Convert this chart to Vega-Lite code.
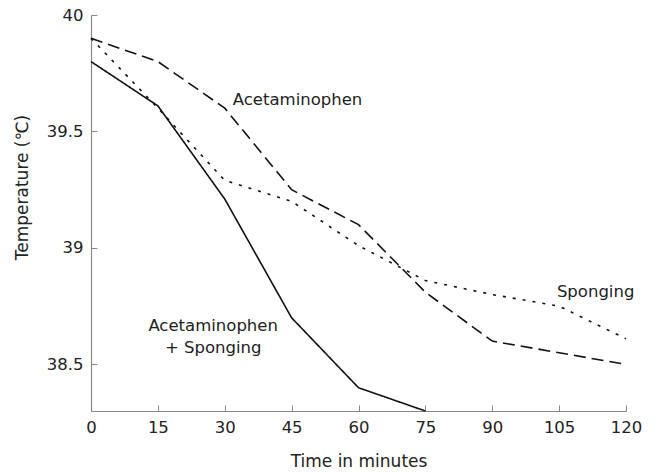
{
  "$schema": "https://vega.github.io/schema/vega-lite/v6.json",
  "autosize": "none",
  "width": 535,
  "height": 396,
  "padding": {"left": 91, "top": 15, "right": 33, "bottom": 64},
  "background": "white",
  "config": {
    "view": {"stroke": null},
    "font": "DejaVu Sans",
    "axis": {"grid": false, "domainColor": "#888", "tickColor": "#888", "labelColor": "#222", "titleColor": "#222", "labelFontSize": 16.5, "titleFontSize": 17, "titleFontWeight": "normal", "labelFont": "DejaVu Sans", "titleFont": "DejaVu Sans"}
  },
  "datasets": {
    "series": [
      {"group": "Acetaminophen + Sponging", "t": 0, "temp": 39.8},
      {"group": "Acetaminophen + Sponging", "t": 15, "temp": 39.61},
      {"group": "Acetaminophen + Sponging", "t": 30, "temp": 39.21},
      {"group": "Acetaminophen + Sponging", "t": 45, "temp": 38.7},
      {"group": "Acetaminophen + Sponging", "t": 60, "temp": 38.4},
      {"group": "Acetaminophen + Sponging", "t": 75, "temp": 38.3},
      {"group": "Acetaminophen", "t": 0, "temp": 39.9},
      {"group": "Acetaminophen", "t": 15, "temp": 39.8},
      {"group": "Acetaminophen", "t": 30, "temp": 39.6},
      {"group": "Acetaminophen", "t": 45, "temp": 39.25},
      {"group": "Acetaminophen", "t": 60, "temp": 39.1},
      {"group": "Acetaminophen", "t": 75, "temp": 38.81},
      {"group": "Acetaminophen", "t": 90, "temp": 38.6},
      {"group": "Acetaminophen", "t": 105, "temp": 38.55},
      {"group": "Acetaminophen", "t": 120, "temp": 38.5},
      {"group": "Sponging", "t": 0, "temp": 39.9},
      {"group": "Sponging", "t": 15, "temp": 39.6},
      {"group": "Sponging", "t": 30, "temp": 39.29},
      {"group": "Sponging", "t": 45, "temp": 39.2},
      {"group": "Sponging", "t": 60, "temp": 39.01},
      {"group": "Sponging", "t": 75, "temp": 38.86},
      {"group": "Sponging", "t": 90, "temp": 38.8},
      {"group": "Sponging", "t": 105, "temp": 38.75},
      {"group": "Sponging", "t": 120, "temp": 38.61}
    ],
    "labels": [
      {"label": "Acetaminophen", "t": 31.8, "temp": 39.636, "anchor": "left"},
      {"label": "Sponging", "t": 104.5, "temp": 38.813, "anchor": "left"},
      {"label": "Acetaminophen", "t": 27.4, "temp": 38.667, "anchor": "center"},
      {"label": "+ Sponging", "t": 27.4, "temp": 38.57, "anchor": "center"}
    ]
  },
  "layer": [
    {
      "data": {"name": "series"},
      "mark": {"type": "line", "color": "#111", "strokeWidth": 1.6, "clip": false},
      "encoding": {
        "x": {"field": "t", "type": "quantitative", "scale": {"domain": [0, 120], "nice": false, "zero": false},
          "axis": {"values": [0, 15, 30, 45, 60, 75, 90, 105, 120], "title": "Time in minutes", "tickSize": -6, "labelPadding": 14, "titlePadding": 18, "domainWidth": 1.2, "labelFlush": false}},
        "y": {"field": "temp", "type": "quantitative", "scale": {"domain": [38.3, 40], "nice": false, "zero": false},
          "axis": {"values": [38.5, 39, 39.5, 40], "format": "~g", "title": "Temperature (℃)", "titleY": 172, "tickSize": -6, "labelPadding": 14, "titlePadding": 15, "domainWidth": 1.2, "labelFlush": false}},
        "detail": {"field": "group"},
        "strokeDash": {"field": "group", "type": "nominal", "legend": null,
          "scale": {"domain": ["Acetaminophen + Sponging", "Acetaminophen", "Sponging"], "range": [[1, 0], [12, 6], [3, 7]]}}
      }
    },
    {
      "data": {"name": "labels"},
      "transform": [{"filter": "datum.anchor === 'left'"}],
      "mark": {"type": "text", "align": "left", "baseline": "middle", "fontSize": 16.5, "color": "#222", "font": "DejaVu Sans"},
      "encoding": {
        "x": {"field": "t", "type": "quantitative"},
        "y": {"field": "temp", "type": "quantitative"},
        "text": {"field": "label"}
      }
    },
    {
      "data": {"name": "labels"},
      "transform": [{"filter": "datum.anchor === 'center'"}],
      "mark": {"type": "text", "align": "center", "baseline": "middle", "fontSize": 16.5, "color": "#222", "font": "DejaVu Sans"},
      "encoding": {
        "x": {"field": "t", "type": "quantitative"},
        "y": {"field": "temp", "type": "quantitative"},
        "text": {"field": "label"}
      }
    }
  ]
}
